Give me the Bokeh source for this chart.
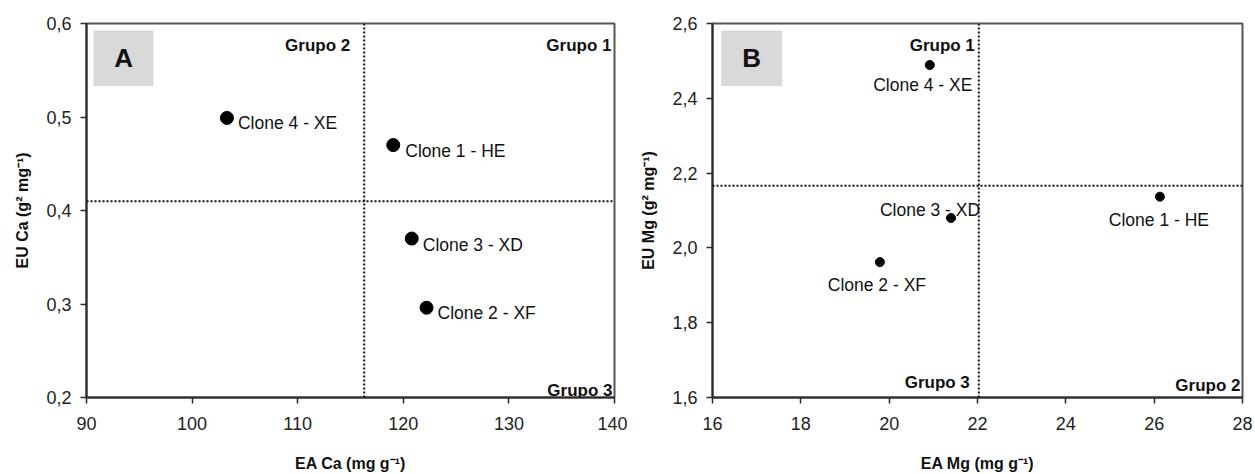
from bokeh.plotting import figure
from bokeh.models import (Range1d, FixedTicker, CustomJSTickFormatter, Span,
                          BoxAnnotation, ColumnDataSource, Label)
from bokeh.layouts import row
from bokeh.embed import file_html
from bokeh.resources import INLINE
from bokeh.core.properties import value

# ---------------- data ----------------
# Panel A (Ca)
a_clones = ["Clone 1 - HE", "Clone 2 - XF", "Clone 3 - XD", "Clone 4 - XE"]
a_ea = [119.05, 122.2, 120.8, 103.3]
a_eu = [0.470, 0.296, 0.370, 0.499]
a_vline = 116.3
a_hline = 0.41
a_xticks = [90, 100, 110, 120, 130, 140]
a_xlabels = ["90", "100", "110", "120", "130", "140"]
a_yticks = [0.2, 0.3, 0.4, 0.5, 0.6]
a_ylabels = ["0,2", "0,3", "0,4", "0,5", "0,6"]
a_groups = ["Grupo 1", "Grupo 2", "Grupo 3"]

# Panel B (Mg)
b_clones = ["Clone 1 - HE", "Clone 2 - XF", "Clone 3 - XD", "Clone 4 - XE"]
b_ea = [26.13, 19.79, 21.40, 20.92]
b_eu = [2.137, 1.962, 2.080, 2.489]
b_vline = 22.03
b_hline = 2.166
b_xticks = [16, 18, 20, 22, 24, 26, 28]
b_xlabels = ["16", "18", "20", "22", "24", "26", "28"]
b_yticks = [1.6, 1.8, 2.0, 2.2, 2.4, 2.6]
b_ylabels = ["1,6", "1,8", "2,0", "2,2", "2,4", "2,6"]
b_groups = ["Grupo 1", "Grupo 3", "Grupo 2"]

FONT = value("Liberation Sans")
AX = "#2b2b2b"


def fmt(tick_values, tick_labels):
    return CustomJSTickFormatter(args=dict(tv=tick_values, tl=tick_labels), code="""
        let best = 0, bd = Infinity;
        for (let i = 0; i < tv.length; i++) {
            const d = Math.abs(tv[i] - tick);
            if (d < bd) { bd = d; best = i; }
        }
        return tl[best];
    """)


def base_fig(width, bl, br, xr, yr, xticks, xlabels, yticks, ylabels, xtitle, ytitle):
    p = figure(width=width, height=474, output_backend="svg", toolbar_location=None,
               x_range=Range1d(*xr), y_range=Range1d(*yr),
               min_border_left=bl, min_border_right=br, min_border_top=23,
               min_border_bottom=71)
    p.xgrid.visible = False
    p.ygrid.visible = False
    p.outline_line_color = "#555555"
    p.outline_line_width = 2
    p.background_fill_color = "white"
    p.border_fill_color = "white"
    for ax, t, l in ((p.xaxis[0], xticks, xlabels), (p.yaxis[0], yticks, ylabels)):
        ax.ticker = FixedTicker(ticks=t)
        ax.formatter = fmt(t, l)
        ax.axis_line_color = AX
        ax.axis_line_width = 2
        ax.major_tick_line_color = AX
        ax.major_tick_line_width = 1.5
        ax.major_tick_out = 6
        ax.major_tick_in = 0
        ax.minor_tick_line_color = None
        ax.major_label_text_font = "Liberation Sans"
        ax.major_label_text_font_size = "18px"
        ax.major_label_text_color = "#222222"
        ax.axis_label_text_font = "Liberation Sans"
        ax.axis_label_text_font_style = "bold"
        ax.axis_label_text_font_size = "16px"
        ax.axis_label_text_color = "#111111"
    p.xaxis.axis_label = xtitle
    p.yaxis.axis_label = ytitle
    p.xaxis.major_label_standoff = 13
    p.xaxis.axis_label_standoff = 22
    p.yaxis.major_label_standoff = 9
    p.yaxis.axis_label_standoff = 12
    return p


def add_quadrants(p, vline, hline):
    p.add_layout(Span(location=vline, dimension="height", line_color="#111111",
                      line_width=2, line_dash="2 2"))
    p.add_layout(Span(location=hline, dimension="width", line_color="#111111",
                      line_width=2, line_dash="2 2"))


def add_panel_tag(p, xr, yr, letter, fl, fr):
    ft, fb = 0.019, 0.167
    x0 = xr[0] + fl * (xr[1] - xr[0])
    x1 = xr[0] + fr * (xr[1] - xr[0])
    y1 = yr[1] - ft * (yr[1] - yr[0])
    y0 = yr[1] - fb * (yr[1] - yr[0])
    p.add_layout(BoxAnnotation(left=x0, right=x1, bottom=y0, top=y1,
                               fill_color="#d9d9d9", fill_alpha=1.0, line_color=None))
    p.add_layout(Label(x=(x0 + x1) / 2, y=(y0 + y1) / 2, text=letter,
                       text_font="Liberation Sans", text_font_style="bold",
                       text_font_size="26px", text_align="center",
                       text_baseline="middle", text_color="#111111"))


# ---------------- Panel A ----------------
a_xr = (a_xticks[0], a_xticks[-1])
a_yr = (a_yticks[0], a_yticks[-1])
pa = base_fig(627, 86, 13, a_xr, a_yr, a_xticks, a_xlabels, a_yticks, a_ylabels,
              "EA Ca (mg g\u207b\u00b9)", "EU Ca (g\u00b2 mg\u207b\u00b9)")
add_quadrants(pa, a_vline, a_hline)
add_panel_tag(pa, a_xr, a_yr, "A", 0.0133, 0.127)

src_a = ColumnDataSource(dict(x=a_ea, y=a_eu, t=a_clones,
                              xo=[12, 11, 11, 11], yo=[6, 5, 6, 5]))
pa.scatter("x", "y", source=src_a, size=13, color="black")
pa.text("x", "y", text="t", source=src_a, x_offset="xo", y_offset="yo",
        text_font=FONT, text_font_size="17.5px", text_align="left",
        text_baseline="alphabetic", text_color="#111111")

src_ga = ColumnDataSource(dict(x=[a_xr[1], a_vline, a_xr[1]],
                               y=[a_yr[1], a_yr[1], a_yr[0]],
                               t=a_groups, xo=[-3, -14, -2], yo=[22, 22, -7]))
pa.text("x", "y", text="t", source=src_ga, x_offset="xo", y_offset="yo",
        text_font=FONT, text_font_style="bold", text_font_size="17px",
        text_align="right", text_baseline="alphabetic", text_color="#111111")

# ---------------- Panel B ----------------
b_xr = (b_xticks[0], b_xticks[-1])
b_yr = (b_yticks[0], b_yticks[-1])
pb = base_fig(628, 85, 13, b_xr, b_yr, b_xticks, b_xlabels, b_yticks, b_ylabels,
              "EA Mg (mg g\u207b\u00b9)", "EU Mg (g\u00b2 mg\u207b\u00b9)")
add_quadrants(pb, b_vline, b_hline)
add_panel_tag(pb, b_xr, b_yr, "B", 0.0164, 0.1315)

src_b = ColumnDataSource(dict(x=b_ea, y=b_eu, t=b_clones,
                              xo=[-1, -3, -21, -7], yo=[23, 23, -8, 20]))
pb.scatter("x", "y", source=src_b, size=9, color="black")
pb.text("x", "y", text="t", source=src_b, x_offset="xo", y_offset="yo",
        text_font=FONT, text_font_size="17.5px", text_align="center",
        text_baseline="alphabetic", text_color="#111111")

src_gb = ColumnDataSource(dict(x=[b_vline, b_vline, b_xr[1]],
                               y=[b_yr[1], b_yr[0], b_yr[0]],
                               t=b_groups, xo=[-4, -9, -2], yo=[22, -15, -12]))
pb.text("x", "y", text="t", source=src_gb, x_offset="xo", y_offset="yo",
        text_font=FONT, text_font_style="bold", text_font_size="17px",
        text_align="right", text_baseline="alphabetic", text_color="#111111")

layout = row(pa, pb, spacing=0)
open("out.html", "w").write(file_html(layout, INLINE))
